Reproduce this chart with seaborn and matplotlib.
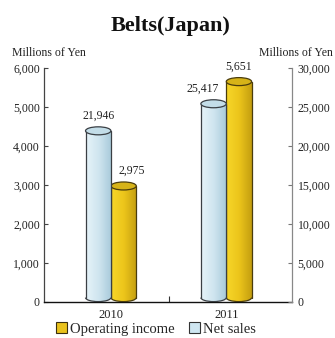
import numpy as np
import pandas as pd
import matplotlib
matplotlib.use("Agg")
import matplotlib.pyplot as plt
from matplotlib.colors import LinearSegmentedColormap
from matplotlib.patches import Ellipse, Arc, Rectangle, Patch
import seaborn as sns

# Values (millions of yen)
years = ["2010", "2011"]
net_sales = [21946, 25417]
operating_income = [2975, 5651]
series_order = ["Net sales", "Operating income"]
left_ticks = [0, 1000, 2000, 3000, 4000, 5000, 6000]
right_ticks = [0, 5000, 10000, 15000, 20000, 25000, 30000]

sns.set_theme(style="white")
plt.rcParams["font.family"] = ["Liberation Serif", "DejaVu Serif"]

W, H = 335, 338
fig = plt.figure(figsize=(W / 100, H / 100), dpi=100)
ax = fig.add_axes([44 / W, 1 - 302 / H, (292 - 44) / W, (302 - 68) / H])
ax2 = ax.twinx()

df_oi = pd.DataFrame({"year": years, "value": operating_income, "series": "Operating income"})
df_ns = pd.DataFrame({"year": years, "value": net_sales, "series": "Net sales"})

# Operating income on the left scale, net sales on the right scale;
# a shared hue order keeps each series in its own slot of the group.
sns.barplot(data=df_oi, x="year", y="value", hue="series", hue_order=series_order,
            ax=ax, width=0.44, errorbar=None, legend=False, dodge=True, gap=0)
sns.barplot(data=df_ns, x="year", y="value", hue="series", hue_order=series_order,
            ax=ax2, width=0.44, errorbar=None, legend=False, dodge=True, gap=0)

styles = {
    "gold": dict(cols=["#f7d72a", "#ecc51b", "#c49e10"], top="#d6b318", edge="#4a3c0c"),
    "blue": dict(cols=["#e6f3f9", "#cfe5ef", "#a7c9da"], top="#c3dde8", edge="#3a3f44"),
}


def cylinder(axis, patch, style, ymax):
    x = patch.get_x()
    w = patch.get_width()
    top = patch.get_height()
    patch.set_visible(False)
    eh = ymax * 8 / 234.0
    y0 = eh * 0.55
    cmap = LinearSegmentedColormap.from_list("g", style["cols"])
    grad = np.linspace(0, 1, 256).reshape(1, -1)
    body = Rectangle((x, y0), w, top - y0, transform=axis.transData)
    im = axis.imshow(grad, cmap=cmap, extent=(x, x + w, y0, top), aspect="auto",
                     zorder=2, origin="lower")
    im.set_clip_path(body)
    base = Ellipse((x + w / 2, y0), w, eh, transform=axis.transData)
    im2 = axis.imshow(grad, cmap=cmap, extent=(x, x + w, y0 - eh / 2, y0 + eh / 2),
                      aspect="auto", zorder=2, origin="lower")
    im2.set_clip_path(base)
    axis.plot([x, x], [y0, top], color=style["edge"], lw=0.9, zorder=3)
    axis.plot([x + w, x + w], [y0, top], color=style["edge"], lw=0.9, zorder=3)
    axis.add_patch(Arc((x + w / 2, y0), w, eh, theta1=180, theta2=360,
                       color=style["edge"], lw=0.9, zorder=3))
    axis.add_patch(Ellipse((x + w / 2, top), w, eh, facecolor=style["top"],
                           edgecolor=style["edge"], lw=0.9, zorder=4))
    return x + w / 2, top


# horizontal nudges (points) keep neighbouring value labels apart
oi_dx = [6, 0]
ns_dx = [0, -8]

for p, v, dx in zip(list(ax.patches), operating_income, oi_dx):
    cx, top = cylinder(ax, p, styles["gold"], 6000)
    ax.annotate(f"{v:,}", (cx, top), xytext=(dx, 11), textcoords="offset points",
                ha="center", va="center", fontsize=8.5, color="#222222")

for p, v, dx in zip(list(ax2.patches), net_sales, ns_dx):
    cx, top = cylinder(ax2, p, styles["blue"], 30000)
    ax2.annotate(f"{v:,}", (cx, top), xytext=(dx, 11), textcoords="offset points",
                 ha="center", va="center", fontsize=8.5, color="#222222")

ax.set_ylim(0, 6000)
ax2.set_ylim(0, 30000)
ax.set_xlim(-0.58, 1.57)

ax.set_yticks(left_ticks)
ax.set_yticklabels([f"{t:,}" for t in left_ticks])
ax2.set_yticks(right_ticks)
ax2.set_yticklabels([f"{t:,}" for t in right_ticks])
ax.set_xticks([0, 1])
ax.set_xticklabels(years)
ax.set_xticks([0.5], minor=True)
ax.set_xlabel("")
ax.set_ylabel("")
ax2.set_ylabel("")

ax.tick_params(axis="y", direction="in", length=3, width=0.8, color="#444444",
               labelsize=8.5, pad=3, left=True, labelcolor="#222222")
ax2.tick_params(axis="y", direction="in", length=3, width=0.8, color="#777777",
                labelsize=8.5, pad=4, right=True, labelcolor="#222222")
ax.tick_params(axis="x", which="major", length=0, labelsize=9, pad=5, labelcolor="#222222")
ax.tick_params(axis="x", which="minor", direction="in", length=4, width=0.8,
               color="#333333", bottom=True)

for a in (ax, ax2):
    a.spines["top"].set_visible(False)
ax.spines["right"].set_visible(False)
ax2.spines["left"].set_visible(False)
ax2.spines["bottom"].set_visible(False)
ax.spines["left"].set_color("#444444")
ax.spines["left"].set_linewidth(0.9)
ax2.spines["right"].set_color("#888888")
ax2.spines["right"].set_linewidth(0.9)
ax.spines["bottom"].set_color("#111111")
ax.spines["bottom"].set_linewidth(1.0)
ax.grid(False)
ax2.grid(False)

fig.text(171 / W, 1 - 26 / H, "Belts(Japan)", ha="center", va="center",
         fontsize=16, fontweight="bold", color="#111111")
fig.text(12 / W, 1 - 53 / H, "Millions of Yen", ha="left", va="center",
         fontsize=8.5, color="#222222")
fig.text(333 / W, 1 - 53 / H, "Millions of Yen", ha="right", va="center",
         fontsize=8.5, color="#222222")

handles = [Patch(facecolor="#e9c21c", edgecolor="#3a3010", lw=0.8),
           Patch(facecolor="#cfe6f1", edgecolor="#333333", lw=0.8)]
fig.legend(handles, ["Operating income", "Net sales"], loc="center",
           bbox_to_anchor=(156 / W, 1 - 329 / H), ncol=2, frameon=False,
           fontsize=10.5, handlelength=0.75, handleheight=0.75, handletextpad=0.2,
           columnspacing=1.0, borderpad=0, borderaxespad=0)

fig.savefig("out.png", dpi=100)
